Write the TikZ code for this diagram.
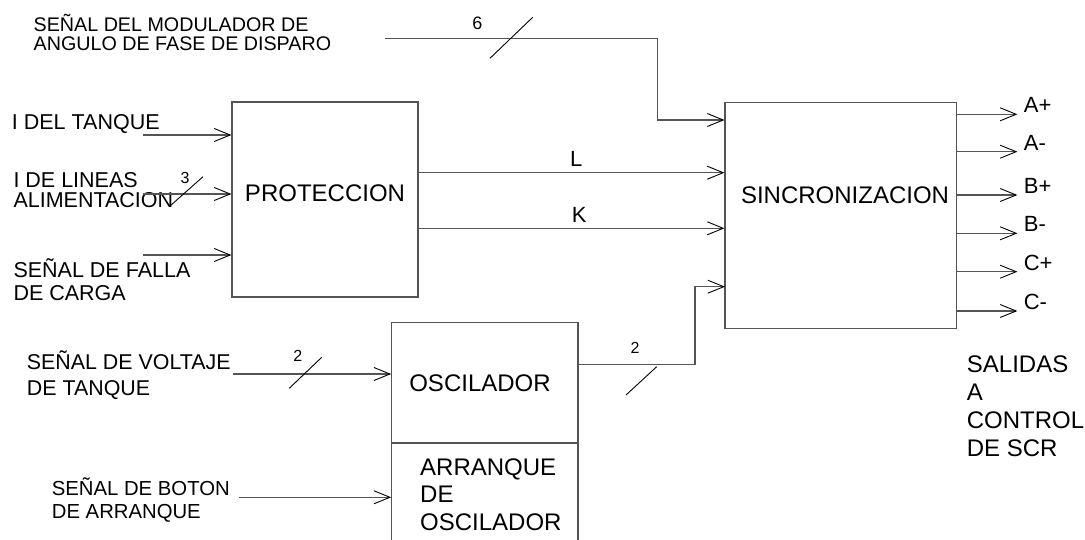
\documentclass[tikz,border=0pt]{standalone}
\usepackage{fontspec}
\setmainfont{Liberation Sans}
\usetikzlibrary{arrows.meta,positioning}
\definecolor{wire}{gray}{0.33}
\newcommand\fsz[2]{\fontsize{#1}{#2}\selectfont}
\tikzset{
  blk/.style={draw=wire, line width=1.2pt, inner sep=0pt},
  sig/.style={draw=wire, line width=1.2pt, -{Straight Barb[length=16pt,width=13pt,line width=0.9pt,color=black]}},
  wirel/.style={draw=wire, line width=1.2pt},
  tick/.style={draw=black, line width=0.9pt},
  lbl/.style={inner sep=0pt, align=left, anchor=base west},
  txt/.style={inner sep=0pt, font=\fsz{24}{27.5}},
  num/.style={inner sep=0pt, font=\fsz{16}{18}}
}
\begin{document}
\begin{tikzpicture}[x=1pt,y=-1pt]
\useasboundingbox (0,0) rectangle (1085,540);

\node[blk, minimum width=186pt, minimum height=195pt] (prot) at (325,199.5) {};
\node[blk, minimum width=231.7pt, minimum height=226pt] (sinc) at (840.9,215.3) {};
\node[blk, minimum width=186.3pt, minimum height=120.7pt] (osc) at (484.9,382.7) {};
\node[blk, minimum width=186.3pt, minimum height=120pt] (arr) at (484.9,503) {};

\node[txt] (prottxt) at (325,193.3) {PROTECCION};
\node[txt] (sinctxt) at (845,195) {SINCRONIZACION};
\node[txt] (osctxt) at (480,383.3) {OSCILADOR};
\node[lbl, font=\fsz{24}{27.5}] (arrtxt) at (420,530.3) {ARRANQUE\\DE\\OSCILADOR};

\node[lbl, font=\fsz{19.7}{18.7}] (modtxt) at (33.5,50.7) {SEÑAL DEL MODULADOR DE\\ANGULO DE FASE DE DISPARO};
\node[lbl, font=\fsz{21.5}{23}] (tanqtxt) at (11.7,129.4) {I DEL TANQUE};
\node[lbl, font=\fsz{21.5}{20}] (lintxt) at (13.3,207.7) {I DE LINEAS\\ ALIMENTACION};
\node[lbl, font=\fsz{21.5}{23.3}] (fallatxt) at (13.3,301) {SEÑAL DE FALLA\\DE CARGA};
\node[lbl, font=\fsz{21.4}{25.6}] (volttxt) at (26.7,395) {SEÑAL DE VOLTAJE\\DE TANQUE};
\node[lbl, font=\fsz{20.3}{22.4}] (bottxt) at (51.7,518) {SEÑAL DE BOTON\\DE ARRANQUE};
\node[lbl, font=\fsz{24}{28}] (saltxt) at (966.7,456.9) {SALIDAS\\A\\CONTROL\\DE SCR};

\coordinate (modIn) at (385,38.3);
\coordinate (modBend) at (657.3,38.3);
\coordinate (modDrop) at (657.3,120);
\draw[sig] (modIn) -- (modBend) -- (modDrop) -- (modDrop -| sinc.west);
\draw[tick] (490,58.3) -- (532.7,17.3);
\node[num, font=\fsz{18}{20}] (n6) at (477.3,23.3) {6};

\coordinate (tanqIn) at (143,135);
\coordinate (linIn) at (143,194);
\coordinate (fallaIn) at (143,255);
\draw[sig] (tanqIn) -- (tanqIn -| prot.west);
\draw[sig] (linIn) -- (linIn -| prot.west);
\draw[sig] (fallaIn) -- (fallaIn -| prot.west);
\draw[tick] (170,206) -- (203,176.7);
\node[num] (n3) at (185,178) {3};

\coordinate (lOut) at (418,172.7);
\coordinate (kOut) at (418,228.3);
\draw[sig] (lOut) -- (lOut -| sinc.west) node[midway, above=5.5pt, inner sep=0pt, font=\fsz{22}{24}, xshift=5pt] (llbl) {L};
\draw[sig] (kOut) -- (kOut -| sinc.west) node[midway, above=5.5pt, inner sep=0pt, font=\fsz{22}{24}, xshift=8pt] (klbl) {K};

\coordinate (voltIn) at (233,374);
\coordinate (botIn) at (239,497.3);
\draw[sig] (voltIn) -- (voltIn -| osc.west);
\draw[sig] (botIn) -- (botIn -| arr.west);
\draw[tick] (289.3,388.3) -- (321.7,357.3);
\node[num] (n2a) at (297.7,356) {2};

\coordinate (oscOut) at (578.3,364.3);
\coordinate (sIn4) at (725,286.7);
\draw[sig] (oscOut) -| ([xshift=-30pt]sIn4) -- (sIn4);
\draw[tick] (626,395) -- (656.7,366.7);
\node[num] (n2b) at (635,348) {2};

\foreach \y/\t [count=\i] in {114.3/A+, 151.7/A-, 195/B+, 233.3/B-, 271.7/C+, 311/C-} {
  \coordinate (out\i) at (sinc.east |- 0,\y);
  \draw[sig] (out\i) -- ++(60,0) coordinate (tip\i);
  \node[inner sep=0pt, anchor=west, font=\fsz{22}{24}] (olbl\i) at ([shift={(6.3,-9)}]tip\i) {\t};
}
\end{tikzpicture}
\end{document}
